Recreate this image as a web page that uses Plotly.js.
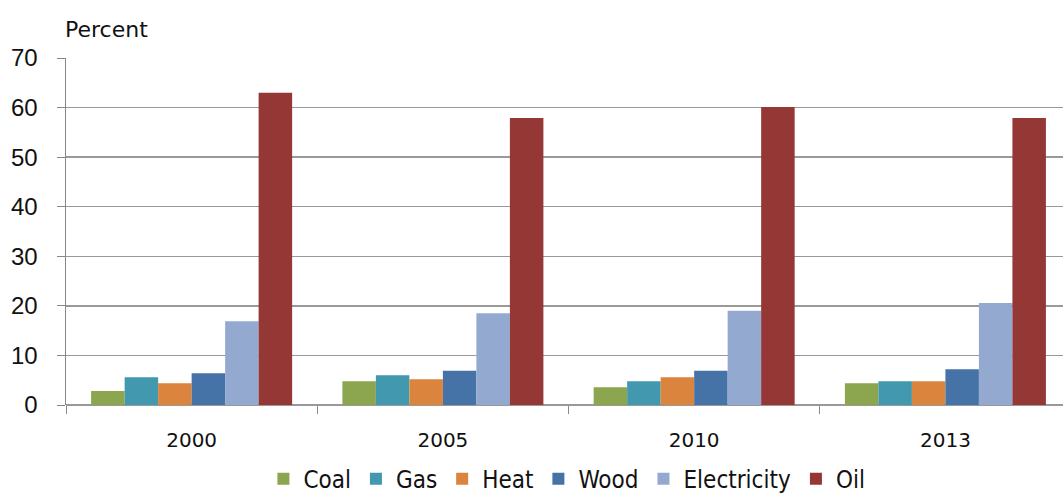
<!DOCTYPE html>
<html>
<head>
<meta charset="utf-8">
<script src="https://cdn.plot.ly/plotly-3.0.1.min.js"></script>
<style>html,body{margin:0;padding:0;background:#fff;}#chart{width:1063px;height:496px;}</style>
</head>
<body>
<div id="chart"></div>
<script>
const years = ["2000", "2005", "2010", "2013"];
const seriesNames = ["Coal", "Gas", "Heat", "Wood", "Electricity", "Oil"];
const coal = [2.8, 4.8, 3.6, 4.4];
const gas = [5.6, 6.0, 4.8, 4.8];
const heat = [4.4, 5.2, 5.6, 4.8];
const wood = [6.4, 6.9, 6.9, 7.2];
const electricity = [16.9, 18.5, 19.0, 20.6];
const oil = [63.0, 57.9, 60.1, 57.9];
const yTicks = [0, 10, 20, 30, 40, 50, 60, 70];

const colors = ["#8BA64E", "#4198AF", "#DB843D", "#4572A7", "#93A9CF", "#953735"];
const values = [coal, gas, heat, wood, electricity, oil];

const traces = seriesNames.map((n, i) => ({
  type: "bar",
  name: n,
  x: years,
  y: values[i],
  marker: {color: colors[i], line: {width: 0}},
  hoverinfo: "skip"
}));

const layout = {
  width: 1063, height: 496,
  margin: {l: 66, r: 0, t: 58, b: 91, autoexpand: false},
  paper_bgcolor: "#fff", plot_bgcolor: "#fff",
  barmode: "group",
  bargap: 0.2, bargroupgap: 0,
  font: {family: "Liberation Sans, Arial, sans-serif", color: "#111"},
  xaxis: {
    type: "category",
    range: [-0.5, 3.468],
    tickson: "boundaries",
    ticks: "outside", ticklen: 8, tickcolor: "#888", tickwidth: 1,
    showgrid: false,
    showline: false,
    zeroline: false,
    tickfont: {size: 20, family: "DejaVu Sans, sans-serif"},
    ticklabelstandoff: 21
  },
  yaxis: {
    range: [0, 70],
    tickvals: yTicks,
    ticktext: yTicks.map(String),
    ticks: "outside", ticklen: 8, tickcolor: "#888", tickwidth: 1,
    showgrid: true, gridcolor: "#999", gridwidth: 1.5,
    showline: true, linecolor: "#888", linewidth: 1.5,
    zeroline: true, zerolinecolor: "#999", zerolinewidth: 1.5,
    tickfont: {size: 24, family: "Liberation Sans, Arial, sans-serif"},
    ticklabelstandoff: 14
  },
  legend: {
    orientation: "h",
    x: 0.198, xanchor: "left",
    y: -0.214, yanchor: "middle",
    font: {size: 24, family: "DejaVu Sans Condensed, DejaVu Sans, sans-serif"},
    itemwidth: 30,
    tracegroupgap: 0
  },
  annotations: [{
    text: "Percent",
    xref: "paper", yref: "paper",
    x: 0, y: 1, xanchor: "left", yanchor: "middle",
    yshift: 29, xshift: -3,
    showarrow: false,
    font: {size: 22, family: "DejaVu Sans, sans-serif", color: "#111"}
  }]
};

Plotly.newPlot("chart", traces, layout, {displayModeBar: false, staticPlot: true});
</script>
</body>
</html>
